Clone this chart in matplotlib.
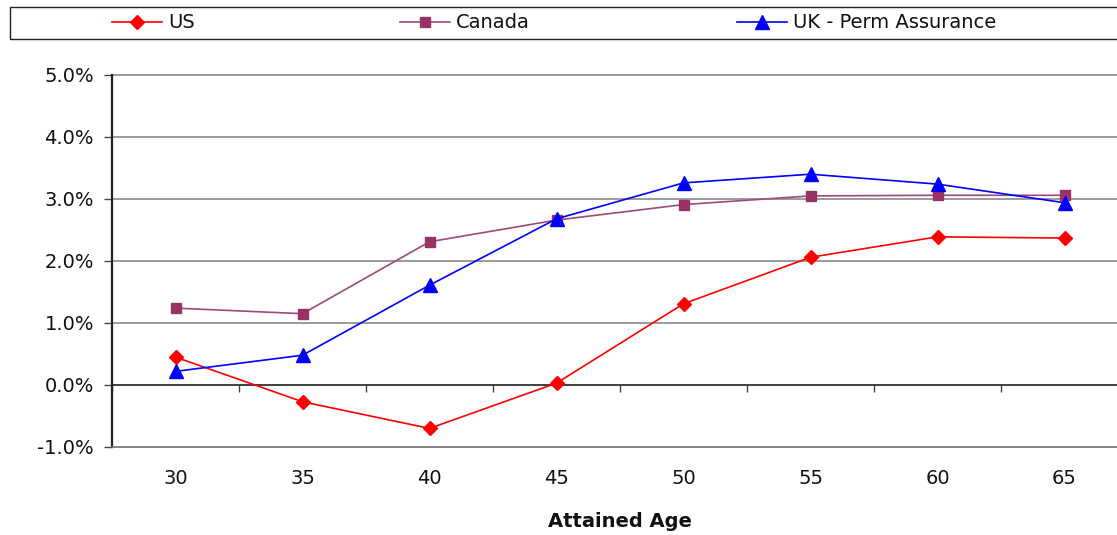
import matplotlib
matplotlib.use("Agg")
import matplotlib.pyplot as plt
from matplotlib.patches import Rectangle
from matplotlib.ticker import FuncFormatter, FixedLocator

ages = ["30", "35", "40", "45", "50", "55", "60", "65"]
us = [0.45, -0.27, -0.70, 0.03, 1.31, 2.06, 2.39, 2.37]
canada = [1.24, 1.15, 2.31, 2.66, 2.91, 3.05, 3.06, 3.06]
uk = [0.22, 0.48, 1.61, 2.68, 3.26, 3.40, 3.24, 2.94]
series_names = ["US", "Canada", "UK - Perm Assurance"]

plt.rcParams['font.family'] = ['DejaVu Sans']
FS = 14

W, H = 1117, 535
fig = plt.figure(figsize=(W / 100, H / 100), dpi=100)
ax = fig.add_axes([112 / W, 1 - 447 / H, (1128 - 112) / W, (447 - 75) / H])

x = list(range(len(ages)))
l1, = ax.plot(x, [v / 100 for v in us], color='#FF0000', lw=1.2, marker='D', ms=7,
              markerfacecolor='#FF0000', markeredgecolor='#FF0000', label=series_names[0], zorder=3)
l2, = ax.plot(x, [v / 100 for v in canada], color='#9E4A78', lw=1.2, marker='s', ms=7.5,
              markerfacecolor='#993366', markeredgecolor='#993366', label=series_names[1], zorder=3)
l3, = ax.plot(x, [v / 100 for v in uk], color='#0000FF', lw=1.2, marker='^', ms=9.5,
              markerfacecolor='#0000FF', markeredgecolor='#0000FF', label=series_names[2], zorder=3)

ax.set_xlim(-0.5, len(ages) - 0.5)
ax.set_ylim(-0.01, 0.05)
ax.set_yticks([-0.01, 0.0, 0.01, 0.02, 0.03, 0.04, 0.05])
ax.yaxis.set_major_formatter(FuncFormatter(lambda v, p: f"{v * 100:.1f}%"))
ax.grid(axis='y', color='#808080', lw=1.1, clip_on=False)
ax.set_axisbelow(True)
ax.axhline(0, color='#333333', lw=1.2, zorder=2)

for s in ['top', 'right']:
    ax.spines[s].set_visible(False)
ax.spines['bottom'].set_color('#808080')
ax.spines['bottom'].set_linewidth(1.1)
ax.spines['left'].set_color('#222222')
ax.spines['left'].set_linewidth(1.6)

ax.set_xticks(x)
ax.set_xticklabels(ages)
ax.tick_params(axis='x', length=0, pad=16, labelsize=FS, labelcolor='#111111')
ax.tick_params(axis='y', direction='out', length=6, width=1, color='#444444', pad=7,
               labelsize=FS, labelcolor='#111111')

# axis line at 0% with boundary ticks
sec = ax.secondary_xaxis(1 / 6)
sec.xaxis.set_major_locator(FixedLocator([i - 0.5 for i in range(len(ages) + 1)]))
sec.tick_params(axis='x', direction='out', length=5, width=1, color='#444444', labelbottom=False)
sec.spines['bottom'].set_visible(False)

ax.set_xlabel("Attained Age", fontsize=FS, fontweight='bold', labelpad=17, color='#111111')

# legend box
fig.patches.append(Rectangle((10 / W, 1 - 39 / H), (W + 5 - 10) / W, 32 / H,
                             transform=fig.transFigure, fill=False, edgecolor='#222222', lw=1.0))
for line, xs in zip([l1, l2, l3], [112, 400, 737]):
    fig.legend([line], [line.get_label()], loc='center left',
               bbox_to_anchor=(xs / W, 1 - 23 / H), frameon=False, fontsize=FS,
               handlelength=2.57, handletextpad=0.3, borderpad=0, borderaxespad=0,
               labelcolor='#111111')

fig.savefig("out.png", dpi=100)
